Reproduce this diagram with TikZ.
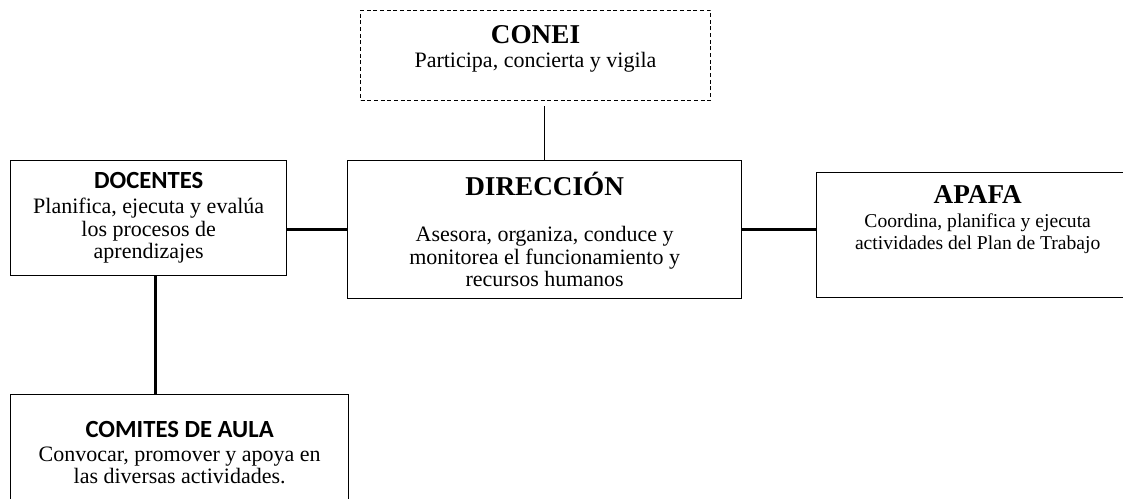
\documentclass[tikz,border=0pt]{standalone}
\usepackage{fontspec}
\setmainfont{Liberation Serif}
\newfontfamily\sanstitle{Carlito}
\usepackage{tikz}
\usetikzlibrary{positioning}

\tikzset{
	box/.style={draw, line width=1pt, align=center, inner sep=0pt, anchor=north west,
		font=\fontsize{16.5}{17}\selectfont},
	link/.style={line width=2.25pt},
}
\newcommand{\headserif}[1]{{\bfseries\fontsize{20.4}{21}\selectfont #1}}
\newcommand{\headsans}[1]{{\sanstitle\bfseries\fontsize{18.5}{20}\selectfont #1}}

\begin{document}
\begin{tikzpicture}[x=0.75pt,y=-0.75pt]
		% Frame
		\path[fill=white] (0,0) rectangle (1123,499);
		\useasboundingbox (0,0) rectangle (1123,499);

		% Boxes
		\node[box, densely dashed, line width=0.75pt, minimum width=262.5pt, minimum height=67.5pt] (conei) at (360,10)
			{\headserif{CONEI}\\[1pt] Participa, concierta y vigila\\[-3pt]};
		\node[box, minimum width=295.5pt, minimum height=103.5pt] (direccion) at (347,160)
			{\headserif{DIRECCIÓN}\\[17.5pt] Asesora, organiza, conduce y\\ monitorea el funcionamiento y\\ recursos humanos};
		\node[box, minimum width=207pt, minimum height=86.25pt] (docentes) at (10,160)
			{\headsans{DOCENTES}\\[1.5pt] Planifica, ejecuta y evalúa\\ los procesos de\\ aprendizajes};
		\node[box, font=\fontsize{14.7}{16.5}\selectfont, minimum width=241.5pt, minimum height=93.75pt] (apafa) at (816,172)
			{\headserif{APAFA}\\[1.5pt] Coordina, planifica y ejecuta\\ actividades del Plan de Trabajo\\[9.5pt]};
		\node[box, minimum width=253.5pt, minimum height=87pt] (comites) at (10,394)
			{\headsans{COMITES DE AULA}\\[1pt] Convocar, promover y apoya en\\ las diversas actividades.};

		% Connectors
		\draw[line width=0.75pt, shorten >=3.75pt] (direccion.north) -- (direccion.north |- conei.south);
		\draw[link] (docentes.east |- direccion.west) -- (direccion.west);
		\draw[link] (direccion.east) -- (direccion.east -| apafa.west);
		\draw[link] ([xshift=5pt]docentes.south) -- ([xshift=5pt]docentes.south |- comites.north);
	\end{tikzpicture}
\end{document}
